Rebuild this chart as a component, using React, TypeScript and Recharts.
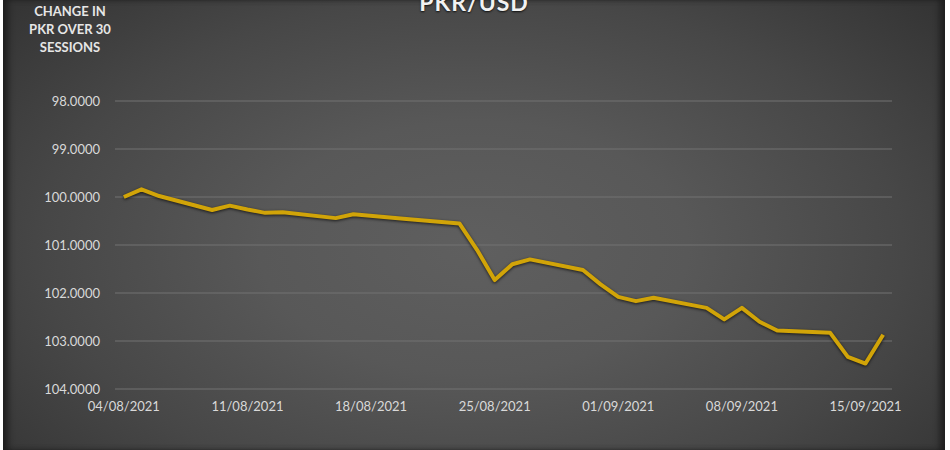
import { LineChart, Line, XAxis, YAxis, CartesianGrid } from "recharts";

// 30 trading sessions (18-19 Aug were holidays)
const sessions = [
  "04/08/2021", "05/08/2021", "06/08/2021", "09/08/2021", "10/08/2021",
  "11/08/2021", "12/08/2021", "13/08/2021", "16/08/2021", "17/08/2021",
  "20/08/2021", "23/08/2021", "24/08/2021", "25/08/2021", "26/08/2021",
  "27/08/2021", "30/08/2021", "31/08/2021", "01/09/2021", "02/09/2021",
  "03/09/2021", "06/09/2021", "07/09/2021", "08/09/2021", "09/09/2021",
  "10/09/2021", "13/09/2021", "14/09/2021", "15/09/2021", "16/09/2021",
];

const pkrChange = [
  100.0, 99.84, 99.98, 100.27, 100.18,
  100.26, 100.33, 100.32, 100.44, 100.36,
  100.46, 100.55, 101.1, 101.73, 101.4,
  101.3, 101.52, 101.82, 102.08, 102.17,
  102.1, 102.31, 102.55, 102.31, 102.6,
  102.78, 102.83, 103.33, 103.47, 102.87,
];

const xTickLabels = [
  "04/08/2021", "11/08/2021", "18/08/2021", "25/08/2021",
  "01/09/2021", "08/09/2021", "15/09/2021",
];
const yTicks = [98, 99, 100, 101, 102, 103, 104];

const toTime = (s: string) => {
  const [d, m, y] = s.split("/").map(Number);
  return Date.UTC(y, m - 1, d);
};
const t0 = toTime(sessions[0]);
const dayIndex = (s: string) => Math.round((toTime(s) - t0) / 86400000);

const data = sessions.map((s, i) => ({ day: dayIndex(s), value: pkrChange[i] }));
const xTicks = xTickLabels.map(dayIndex);
const lastDay = dayIndex(sessions[sessions.length - 1]);

const font = "Lato, 'Open Sans', sans-serif";

export default function App() {
  return (
    <div style={{ position: "absolute", left: 0, top: 0, width: 950, height: 450, background: "#fff", overflow: "hidden", fontFamily: font }}>
      <style>{`.pkr-line path { filter: drop-shadow(0px 1px 1.5px rgba(0,0,0,0.7)); }`}</style>
      <div
        style={{
          position: "absolute",
          left: 3,
          top: 0,
          width: 942,
          height: 450,
          background: "radial-gradient(ellipse 65% 80% at 50% 55%, #5f5f5f 0%, #585858 35%, #474747 70%, #353535 100%)",
          boxShadow: "inset 7px 0 6px -2px #1e1e1e, inset -7px 0 6px -2px #1e1e1e",
        }}
      />
      <div
        style={{
          position: "absolute",
          left: 0,
          width: 948,
          top: -12,
          textAlign: "center",
          fontSize: 23,
          fontWeight: 700,
          color: "#f2f2f2",
          letterSpacing: 1,
          textShadow: "0 1px 2px rgba(0,0,0,0.8)",
        }}
      >
        PKR/USD
      </div>
      <div
        style={{
          position: "absolute",
          left: 20,
          width: 100,
          top: 2,
          textAlign: "center",
          fontSize: 13,
          fontWeight: 700,
          lineHeight: "18px",
          color: "#e6e6e6",
        }}
      >
        CHANGE IN
        <br />
        PKR OVER 30
        <br />
        SESSIONS
      </div>
      <div style={{ position: "absolute", left: 0, top: 0 }}>
        <LineChart width={950} height={450} data={data} margin={{ top: 101, right: 58, bottom: 0, left: 0 }}>
          <CartesianGrid vertical={false} stroke="#737373" strokeWidth={1} />
          <XAxis
            dataKey="day"
            type="number"
            domain={[-0.5, lastDay + 0.5]}
            ticks={xTicks}
            tickFormatter={(v: number) => xTickLabels[xTicks.indexOf(v)] ?? ""}
            axisLine={false}
            tickLine={false}
            tickSize={0}
            tickMargin={13}
            height={61}
            interval={0}
            tick={{ fontSize: 13, fill: "#d9d9d9", fontFamily: font }}
          />
          <YAxis
            reversed
            domain={[98, 104]}
            ticks={yTicks}
            tickFormatter={(v: number) => v.toFixed(4)}
            axisLine={false}
            tickLine={false}
            tickSize={0}
            tickMargin={15}
            width={115}
            interval={0}
            tick={{ fontSize: 13, fill: "#d9d9d9", fontFamily: font }}
          />
          <Line
            className="pkr-line"
            type="linear"
            dataKey="value"
            stroke="#d1a408"
            strokeWidth={4}
            strokeLinejoin="round"
            dot={false}
            activeDot={false}
            isAnimationActive={false}
          />
        </LineChart>
      </div>
    </div>
  );
}
